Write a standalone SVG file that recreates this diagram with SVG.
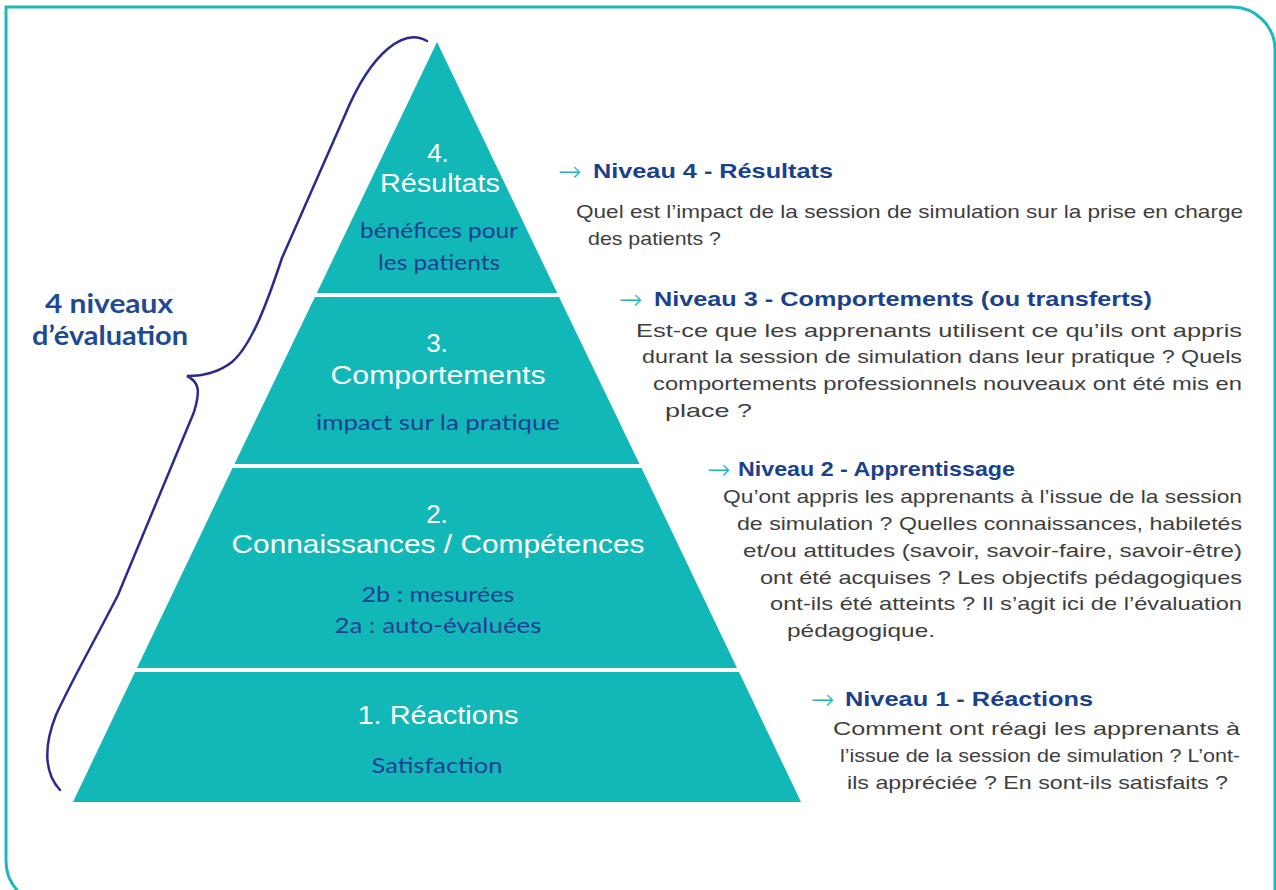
<svg xmlns="http://www.w3.org/2000/svg" width="1276" height="890" viewBox="0 0 1276 890">
<style>
.band{fill:#12b8b8}
.wt{font-family:"Liberation Sans",Arial,sans-serif;fill:#ffffff;text-anchor:middle;font-size:26px}
.st{font-family:Lato,"Open Sans",sans-serif;fill:#1c3f94;text-anchor:middle;font-size:22px}
.hd{font-family:"Liberation Sans",Arial,sans-serif;fill:#1a428c;font-weight:bold;font-size:21px}
.ar{font-family:"DejaVu Sans",sans-serif;fill:#1fb5b5;font-size:28px;font-weight:300}
.bd{font-family:"Liberation Sans",Arial,sans-serif;fill:#3e3e3e;font-size:18.5px}
.lbl{font-family:Lato,"Open Sans",sans-serif;fill:#1d4a92;font-weight:bold;font-size:27px}
</style>
<rect width="1276" height="890" fill="#ffffff"/>
<path id="frame" d="M6,7 H1232 A43,43 0 0 1 1275,50 V905 H50 A44,44 0 0 1 6,861 Z" fill="none" stroke="#1fb8b6" stroke-width="3"/>

<g id="level4">
<polygon class="band" points="437,42 557.2,293 316.8,293"/>
<text class="wt" x="438" y="162">4.</text>
<text class="wt" x="440" y="192" textLength="120" lengthAdjust="spacingAndGlyphs">Résultats</text>
<text class="st" x="439" y="238" textLength="158" lengthAdjust="spacingAndGlyphs">bénéfices pour</text>
<text class="st" x="439" y="270" textLength="122" lengthAdjust="spacingAndGlyphs">les patients</text>
</g>
<g id="level3">
<polygon class="band" points="314.9,297 559.1,297 639.5,464 234.5,464"/>
<text class="wt" x="437" y="352">3.</text>
<text class="wt" x="438" y="384" textLength="215" lengthAdjust="spacingAndGlyphs">Comportements</text>
<text class="st" x="438" y="430" textLength="244" lengthAdjust="spacingAndGlyphs">impact sur la pratique</text>
</g>
<g id="level2">
<polygon class="band" points="232.5,468 641.5,468 737,668 137,668"/>
<text class="wt" x="437" y="523">2.</text>
<text class="wt" x="438" y="553" textLength="413" lengthAdjust="spacingAndGlyphs">Connaissances / Compétences</text>
<text class="st" x="438" y="602" textLength="153" lengthAdjust="spacingAndGlyphs">2b : mesurées</text>
<text class="st" x="438" y="633" textLength="207" lengthAdjust="spacingAndGlyphs">2a : auto-évaluées</text>
</g>
<g id="level1">
<polygon class="band" points="135,672 739,672 801,802 73,802"/>
<text class="wt" x="438" y="724" textLength="161" lengthAdjust="spacingAndGlyphs">1. Réactions</text>
<text class="st" x="437" y="773" textLength="131" lengthAdjust="spacingAndGlyphs">Satisfaction</text>
</g>

<g id="brace">
<path d="M427,41 C405,28 372,50 345,115 L282,258 C268,300 252,345 232,362 C218,373 200,376 187,376 C200,382 200,392 194,412 L118,595 C95,640 72,680 56,715 C42,750 46,775 60,790" fill="none" stroke="#2b2b8c" stroke-width="2.5" stroke-linecap="round"/>
</g>
<g id="label">
<text class="lbl" x="45" y="313" textLength="128" lengthAdjust="spacingAndGlyphs">4 niveaux</text>
<text class="lbl" x="32" y="345" textLength="156" lengthAdjust="spacingAndGlyphs">d’évaluation</text>
</g>

<g id="desc4">
<text class="ar" x="558" y="181">→</text>
<text class="hd" x="593" y="178" textLength="240" lengthAdjust="spacingAndGlyphs">Niveau 4 - Résultats</text>
<text class="bd" x="576" y="218" textLength="667" lengthAdjust="spacingAndGlyphs">Quel est l’impact de la session de simulation sur la prise en charge</text>
<text class="bd" x="588" y="245" textLength="133" lengthAdjust="spacingAndGlyphs">des patients ?</text>
</g>
<g id="desc3">
<text class="ar" x="619" y="309">→</text>
<text class="hd" x="654" y="306" textLength="498" lengthAdjust="spacingAndGlyphs">Niveau 3 - Comportements (ou transferts)</text>
<text class="bd" x="636" y="337" textLength="606" lengthAdjust="spacingAndGlyphs">Est-ce que les apprenants utilisent ce qu’ils ont appris</text>
<text class="bd" x="642" y="363" textLength="600" lengthAdjust="spacingAndGlyphs">durant la session de simulation dans leur pratique ? Quels</text>
<text class="bd" x="653" y="390" textLength="589" lengthAdjust="spacingAndGlyphs">comportements professionnels nouveaux ont été mis en</text>
<text class="bd" x="665" y="417" textLength="87" lengthAdjust="spacingAndGlyphs">place ?</text>
</g>
<g id="desc2">
<text class="ar" x="707" y="479">→</text>
<text class="hd" x="738" y="476" textLength="277" lengthAdjust="spacingAndGlyphs">Niveau 2 - Apprentissage</text>
<text class="bd" x="723" y="503" textLength="519" lengthAdjust="spacingAndGlyphs">Qu’ont appris les apprenants à l’issue de la session</text>
<text class="bd" x="737" y="530" textLength="505" lengthAdjust="spacingAndGlyphs">de simulation ? Quelles connaissances, habiletés</text>
<text class="bd" x="743" y="557" textLength="499" lengthAdjust="spacingAndGlyphs">et/ou attitudes (savoir, savoir-faire, savoir-être)</text>
<text class="bd" x="760" y="584" textLength="482" lengthAdjust="spacingAndGlyphs">ont été acquises ? Les objectifs pédagogiques</text>
<text class="bd" x="770" y="610" textLength="472" lengthAdjust="spacingAndGlyphs">ont-ils été atteints ? Il s’agit ici de l’évaluation</text>
<text class="bd" x="787" y="637" textLength="148" lengthAdjust="spacingAndGlyphs">pédagogique.</text>
</g>
<g id="desc1">
<text class="ar" x="811" y="709">→</text>
<text class="hd" x="845" y="706" textLength="248" lengthAdjust="spacingAndGlyphs">Niveau 1 - Réactions</text>
<text class="bd" x="833" y="735" textLength="407" lengthAdjust="spacingAndGlyphs">Comment ont réagi les apprenants à</text>
<text class="bd" x="840" y="762" textLength="400" lengthAdjust="spacingAndGlyphs">l’issue de la session de simulation ? L’ont-</text>
<text class="bd" x="847" y="789" textLength="381" lengthAdjust="spacingAndGlyphs">ils appréciée ? En sont-ils satisfaits ?</text>
</g>
</svg>
